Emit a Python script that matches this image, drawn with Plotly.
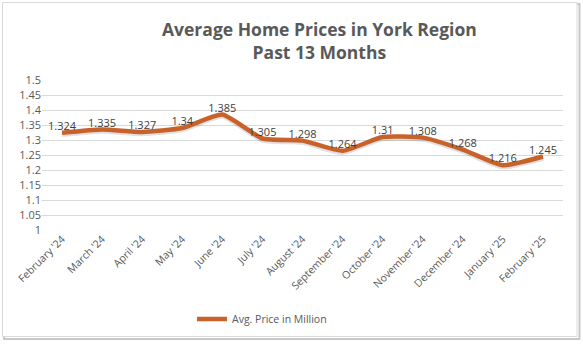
import plotly.graph_objects as go

months = ["February '24", "March '24", "April '24", "May '24", "June '24", "July '24",
          "August '24", "September '24", "October '24", "November '24", "December '24",
          "January '25", "February '25"]
prices = [1.324, 1.335, 1.327, 1.34, 1.385, 1.305, 1.298, 1.264, 1.31, 1.308, 1.268, 1.216, 1.245]
price_labels = ["1.324", "1.335", "1.327", "1.34", "1.385", "1.305", "1.298", "1.264",
                "1.31", "1.308", "1.268", "1.216", "1.245"]
y_ticks = [1, 1.05, 1.1, 1.15, 1.2, 1.25, 1.3, 1.35, 1.4, 1.45, 1.5]
y_tick_text = ["1", "1.05", "1.1", "1.15", "1.2", "1.25", "1.3", "1.35", "1.4", "1.45", "1.5"]
title_text = "<b>Average Home Prices in York Region<br>Past 13 Months</b>"

W, H = 583, 345
L, R, T, B = 42, 20, 80, 115
PW, PH = W - L - R, H - T - B

def px(x):
    return (x - L) / PW

def py(y):
    return (H - B - y) / PH

fig = go.Figure()
# shadow of the line
fig.add_trace(go.Scatter(
    x=months, y=[p - 0.006 for p in prices], mode="lines",
    line=dict(color="rgba(0,0,0,0.12)", width=5, shape="spline", smoothing=0.5),
    hoverinfo="skip", showlegend=False))
fig.add_trace(go.Scatter(
    x=months, y=prices, mode="lines+text", name="Avg. Price in Million",
    text=price_labels, textposition="top center",
    textfont=dict(family="Open Sans, sans-serif", size=11, color="#404040"),
    line=dict(color="#C8612A", width=4.5, shape="spline", smoothing=0.5),
))

shapes = [
    dict(type="rect", xref="paper", yref="paper", x0=px(4), x1=px(579.5), y0=py(339), y1=py(4),
         line=dict(color="#c8c8c8", width=2), layer="below"),
    dict(type="rect", xref="paper", yref="paper", x0=px(2.5), x1=px(577), y0=py(336.5), y1=py(2.5),
         line=dict(color="#d9d9d9", width=1), fillcolor="white", layer="below"),
]

fig.update_layout(
    width=W, height=H,
    margin=dict(l=L, r=R, t=T, b=B),
    paper_bgcolor="#ffffff", plot_bgcolor="rgba(0,0,0,0)",
    shapes=shapes,
    annotations=[dict(
        text=title_text, xref="paper", yref="paper", x=px(319), y=py(15),
        xanchor="center", yanchor="top", showarrow=False, align="center",
        font=dict(family="Open Sans, sans-serif", size=17.5, color="#595959"),
    )],
    xaxis=dict(
        type="category", tickangle=-45, showgrid=False, showline=False, ticks="",
        tickfont=dict(family="Open Sans, sans-serif", size=10.5, color="#595959"),
        range=[-0.5, 12.5],
    ),
    yaxis=dict(
        range=[1, 1.5], tickvals=y_ticks, ticktext=y_tick_text,
        showgrid=True, gridcolor="#d9d9d9", gridwidth=1, zeroline=False,
        showline=False, ticks="",
        tickfont=dict(family="Open Sans, sans-serif", size=11, color="#595959"),
    ),
    legend=dict(
        orientation="h", x=px(262), xanchor="center", y=py(319), yanchor="middle",
        font=dict(family="Open Sans, sans-serif", size=10.5, color="#595959"),
        bgcolor="rgba(0,0,0,0)", itemwidth=30,
    ),
    showlegend=True,
)

fig.write_html("out.html")
